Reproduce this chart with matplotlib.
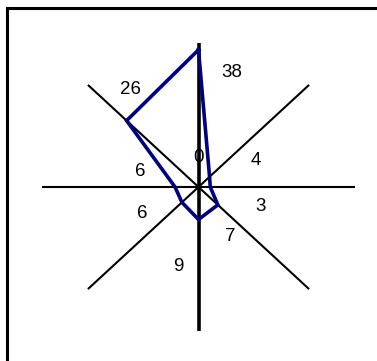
import numpy as np
import matplotlib
matplotlib.use("Agg")
import matplotlib.pyplot as plt
from matplotlib.patches import Rectangle

# radar values, clockwise from north
directions = ["N", "NE", "E", "SE", "S", "SW", "W", "NW"]
values = [38, 4, 3, 7, 9, 6, 6, 26]
r_max = 40
center_label = "0"

W, H = 377, 361
CX, CY = 198.5, 187.0          # plot centre in pixels (from top-left)
SX, SY = 3.91, 3.61            # pixels per value unit (plot area is a bit wide)

# where each data label sits relative to its vertex, in pixels
label_offsets = [(33, -23), (46, 16), (50, -20), (12, -32),
                 (-20, -47), (-40, -11), (-35, 15), (4, 31)]

fig = plt.figure(figsize=(W / 100, H / 100), dpi=100)
ax = fig.add_axes([0, 0, 1, 1])
ax.set_xlim(-CX / SX, (W - CX) / SX)
ax.set_ylim(-(H - CY) / SY, CY / SY)
ax.axis("off")

ang = np.deg2rad(np.arange(len(values)) * 360.0 / len(values))

# spokes
for i, a in enumerate(ang):
    lw = 2.6 if i in (0, 4) else 1.5
    ax.plot([0, r_max * np.sin(a)], [0, r_max * np.cos(a)],
            color="black", lw=lw, solid_capstyle="butt", zorder=2)

vals = np.array(values, dtype=float)
xs = vals * np.sin(ang)
ys = vals * np.cos(ang)
ax.plot(np.append(xs, xs[0]), np.append(ys, ys[0]), color="#000080",
        lw=2.6, solid_joinstyle="miter", zorder=3)

for x, y, v, off in zip(xs, ys, values, label_offsets):
    ax.annotate(str(v), (x, y), xytext=off, textcoords="offset pixels",
                ha="center", va="center", fontsize=13.5,
                family="Liberation Sans", color="black")

ax.annotate(center_label, (0, 0), xytext=(0, 29), textcoords="offset pixels",
            ha="center", va="center", fontsize=13.5,
            family="Liberation Sans", color="black")

# chart border, right and bottom edges fall outside the image
fig.add_artist(Rectangle((7 / W, -0.1), 1.2, 1 - 7.5 / H + 0.1,
                         transform=fig.transFigure, fill=False,
                         edgecolor="black", lw=2.2, clip_on=False))

fig.savefig("out.png", dpi=100)
